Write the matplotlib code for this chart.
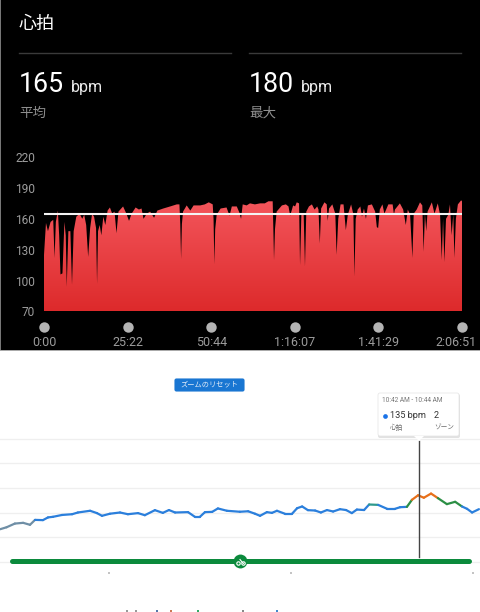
import matplotlib
matplotlib.use('Agg')
import matplotlib.pyplot as plt
import matplotlib.patches as patches
from matplotlib.transforms import ScaledTranslation
import numpy as np

plt.rcParams['font.family'] = ['Roboto', 'Noto Sans CJK JP', 'DejaVu Sans']

# upper chart, minutes and bpm
hr_minutes = [0, .6, 1.2, 2, 2.8, 3.2, 3.6, 4.2, 4.6, 5,
              5.6, 6.2, 6.6, 6.9, 7.4, 8, 8.5, 9, 9.8, 10.8,
              11.6, 12.2, 12.8, 13.4, 14, 14.6, 15.2, 15.8, 16.1, 16.4,
              16.9, 17.4, 18, 18.6, 19.3, 20, 20.7, 21.4, 22, 22.6,
              24, 25, 25.8, 26.6, 27.8, 28.8, 29.6, 30.2, 31.2, 32.2,
              33.4, 34.4, 36.2, 38.3, 40.3, 41.1, 41.35, 41.6, 41.85, 42.2,
              43.3, 44.4, 45.4, 47.4, 48.8, 50, 51.2, 51.45, 51.7, 51.95,
              52.4, 53.6, 55.4, 56.3, 57, 58.5, 59.3, 59.8, 60.3, 61.5,
              62.5, 64, 65.6, 67, 68.1, 69.4, 69.6, 69.8, 70.1, 70.6,
              72.2, 73.4, 74.2, 74.7, 75.6, 76.2, 76.7, 77.4, 77.7, 78.1,
              78.8, 79.2, 79.6, 80.4, 81.3, 82.1, 82.9, 83.3, 83.7, 84.1,
              85.1, 85.8, 86.1, 86.5, 87.5, 88.4, 88.8, 89.3, 90, 90.9,
              91.6, 92.2, 93.2, 93.9, 94.2, 94.6, 95.2, 96, 96.5, 97.1,
              97.7, 98.3, 99.5, 100.5, 101, 101.4, 101.9, 102.7, 103.3, 104.5,
              105.8, 106.2, 106.5, 108, 109, 109.8, 110.4, 111.1, 111.8, 112.2,
              113.1, 114.1, 114.8, 115.2, 115.6, 116, 116.4, 117.7, 118.5, 119.5,
              120.2, 120.7, 121.1, 121.5, 122, 122.7, 123.2, 123.7, 124.2, 124.55,
              125, 125.6, 126.6, 126.85]
hr_values = [125, 156, 148, 157, 159, 122, 157, 168, 144, 106,
             107, 157, 144, 94, 148, 148, 96, 148, 162, 165,
             160, 164, 154, 123, 151, 165, 162, 151, 97, 148,
             154, 144, 162, 154, 168, 171, 165, 167, 146, 167,
             172, 165, 158, 165, 171, 169, 170, 160, 165, 167,
             161, 168, 170, 172, 174, 174, 155, 121, 155, 167,
             173, 168, 173, 173, 174, 176, 174, 160, 116, 150,
             164, 170, 171, 163, 172, 172, 166, 160, 174, 173,
             175, 174, 175, 175, 177, 177, 150, 120, 150, 167,
             173, 174, 172, 163, 173, 172, 176, 175, 115, 164,
             164, 114, 167, 172, 174, 169, 172, 169, 136, 170,
             176, 174, 158, 170, 174, 165, 125, 160, 174, 174,
             149, 164, 174, 164, 104, 160, 169, 172, 162, 170,
             160, 173, 174, 167, 152, 151, 169, 174, 165, 174,
             174, 164, 169, 175, 169, 154, 169, 164, 122, 165,
             169, 176, 173, 128, 165, 148, 167, 176, 165, 175,
             164, 120, 160, 118, 160, 164, 174, 144, 164, 122,
             160, 174, 178, 177]
hr_average = 165
y_ticks = [70, 100, 130, 160, 190, 220]
x_ticks = [0, 25.37, 50.73, 76.12, 101.48, 126.85]
x_labels = ['0:00', '25:22', '50:44', '1:16:07', '1:41:29', '2:06:51']

# lower chart, minutes from start and bpm
zone_minutes = [-3.3, -1.5, .8, 3.1, 5, 6.4, 8.6, 10, 11.4, 13.9, 16.7, 18.3, 21.7, 23.6, 25, 27.2, 30, 32.2,
                35, 36.9, 39.7, 41.9, 43.6, 45.3, 48.9, 50.8, 52.2, 53.6, 55.6, 57.2, 59.7, 63.3, 65.6,
                67.5, 68.9, 70.8, 72.2, 73.6, 75.8, 77.8, 79.2, 80.6, 82.2, 84.2, 85.8, 87.5, 89.2, 91.1,
                92.8, 94.4, 95.8, 97.8, 99.2, 101.7, 104.2, 106.4, 107.8, 109.7, 111.1, 112.8, 114.4,
                116.4, 118.3, 120.8, 123.1, 125, 126.4, 127.8, 129.7]
zone_values = [106.4, 108, 111, 111.6, 110, 114, 113.8, 116, 116.5, 118, 118.6, 120, 121.4, 119.5, 117.3, 119, 120, 118.6,
               119.5, 117.8, 121.9, 119.7, 122, 120, 120.3, 116.5, 116.5, 120.3, 120.5, 123.3, 121.4, 120.6, 121,
               119, 117.3, 120.3, 119.7, 121.4, 119, 119, 123.5, 124.9, 121.9, 121.6, 120, 122, 120.8, 122.7,
               122, 119.5, 122.4, 122, 126.5, 126.2, 123, 123, 124.3, 124.6, 130.3, 134, 132,
               135.4, 131.7, 126.8, 128.7, 124.9, 123, 120, 122.7]
# zone of each segment of the line
zones = ['g'] * 5 + ['b'] * 47 + ['t'] + ['b'] * 4 + ['g2'] + ['o'] * 4 + ['g2'] * 3 + ['b'] * 3
zone_colors = {'g': '#6f8fa6', 'b': '#2b7fdc', 't': '#2f9a8c', 'g2': '#2c8f45', 'o': '#e8701a'}
grid_values = [80, 100, 120, 140, 160, 180]
ride_length = 127
bottom_ticks = [26.9, 77.5, 128]
cursor_minute = 113
legend_dots = [127, 136, 157, 171, 198, 243, 277]
legend_colors = ['#999999', '#999999', '#5577aa', '#cc7755', '#33aa66', '#888888', '#4488cc']


def axes_px(fig, left, top, right, bottom):
    """ axes placed by pixel edges of the 480x612 figure """
    return fig.add_axes([left / 480, 1 - bottom / 612, (right - left) / 480, (bottom - top) / 612])


fig = plt.figure(figsize=(4.8, 6.12), dpi=100, facecolor='white')

back = fig.add_axes([0, 0, 1, 1], zorder=0)
back.set_xlim(0, 480)
back.set_ylim(612, 0)
back.axis('off')
back.add_patch(patches.Rectangle((1, 0), 479, 350, color='black', lw=0))
back.add_patch(patches.Rectangle((0, 0), 1, 351, color='#777777', lw=0))
back.add_patch(patches.Rectangle((0, 350), 480, 1, color='#aaaaaa', lw=0))

# upper chart
ax = axes_px(fig, 44, 157, 462, 311.5)
ax.set_zorder(1)
ax.patch.set_alpha(0)
area = ax.fill_between(hr_minutes, 70, hr_values, color='none', lw=0)
gradient = np.linspace(0, 1, 256).reshape(-1, 1)
cmap = matplotlib.colors.LinearSegmentedColormap.from_list('hr', ['#f4575d', '#dd2a2b'])
img = ax.imshow(gradient, extent=[0, 126.85, 70, 180], cmap=cmap, aspect='auto', origin='upper')
img.set_clip_path(area.get_paths()[0], transform=ax.transData)
ax.set_xlim(0, 126.85)
ax.set_ylim(70, 220)
ax.plot([0, 126.85], [hr_average, hr_average], color='#f4f4f4', lw=1.5, solid_capstyle='butt')
for s in ax.spines.values():
    s.set_visible(False)
ax.set_yticks(y_ticks)
ax.set_xticks(x_ticks)
ax.set_xticklabels(x_labels)
ax.tick_params(axis='y', length=0, labelsize=8.6, labelcolor='#9c9c9c', pad=6.5)
ax.tick_params(axis='x', length=0, labelsize=9, labelcolor='#9c9c9c', pad=18)
# last label is pushed in from the page edge
last = ax.get_xticklabels()[-1]
last.set_transform(last.get_transform() + ScaledTranslation(-6 / 100, 0, fig.dpi_scale_trans))
ax.plot(x_ticks, [70] * 6, 'o', color='#b4b4b4', ms=7.5, mew=0, clip_on=False,
        transform=ax.transData + ScaledTranslation(0, -15.5 / 100, fig.dpi_scale_trans))

# lower chart
bx = axes_px(fig, 0, 419.5, 480, 579.5)
bx.set_zorder(1)
bx.patch.set_alpha(0)
bx.set_xlim(-3.33, 130)
bx.set_ylim(120 - (580 - 513) * 20 / 24.6, 120 + (513 - 420) * 20 / 24.6)
bx.axis('off')
for v in grid_values:
    bx.axhline(v, color='#efefef', lw=0.9, zorder=1)
for i in range(len(zones)):
    bx.plot(zone_minutes[i:i + 2], zone_values[i:i + 2], color=zone_colors[zones[i]], lw=1.6,
            solid_capstyle='round', zorder=3)
bx.plot([cursor_minute, cursor_minute], [84, 178.5], color='#444444', lw=1, zorder=4)
bx.plot([0, ride_length], [80.5, 80.5], color='#0b8a3c', lw=3.6, solid_capstyle='round', zorder=5)
bx.plot([63.3], [80.5], 'o', color='#0b8a3c', ms=10, mew=0, zorder=6)
bx.plot(bottom_ticks, [71] * 3, 's', color='#c4c4c4', ms=2, mew=0, zorder=2)

# texts and page furniture
page = fig.add_axes([0, 0, 1, 1], zorder=5)
page.patch.set_alpha(0)
page.set_xlim(0, 480)
page.set_ylim(612, 0)
page.axis('off')

page.text(19, 23.5, '心拍', color='white', fontsize=13, va='center')
page.plot([19, 231], [53, 53], color='#3a3a3a', lw=1)
page.plot([249, 461], [53, 53], color='#3a3a3a', lw=1)
page.text(19, 92, '165', color='white', fontsize=19.3, va='baseline')
page.text(71, 92, 'bpm', color='#e8e8e8', fontsize=11.5, va='baseline')
page.text(249, 92, '180', color='white', fontsize=19.3, va='baseline')
page.text(301, 92, 'bpm', color='#e8e8e8', fontsize=11.5, va='baseline')
page.text(19, 113, '平均', color='#8f8f8f', fontsize=9.7, va='center')
page.text(249, 113, '最大', color='#8f8f8f', fontsize=9.7, va='center')

# reset button
page.add_patch(patches.FancyBboxPatch((175, 379), 69, 12, boxstyle='round,pad=0,rounding_size=1.5',
                                      fc='#1976d2', ec='#1976d2', lw=0.8))
page.text(209.5, 385, 'ズームのリセット', color='#e8f0fa', fontsize=5.2, ha='center', va='center')

# tooltip
page.add_patch(patches.FancyBboxPatch((378, 394), 82, 44, boxstyle='round,pad=0,rounding_size=2',
                                      fc='#cfcfcf', ec='none', alpha=0.6))
page.add_patch(patches.FancyBboxPatch((378, 393), 81, 43, boxstyle='round,pad=0,rounding_size=2',
                                      fc='white', ec='#e4e4e4', lw=0.5))
page.add_patch(patches.Polygon([(414, 436), (419, 441), (424, 436)], fc='white', ec='none'))
page.text(382.5, 400, '10:42 AM - 10:44 AM', color='#777777', fontsize=4.7, va='center')
page.plot([384.5], [416], 'o', color='#1a73e8', ms=3.4, mew=0)
page.text(390.5, 415.5, '135 bpm', color='#333333', fontsize=6.6, va='center')
page.text(434, 415.5, '2', color='#333333', fontsize=6.6, va='center')
page.text(390, 428, '心拍', color='#666666', fontsize=4.8, va='center')
page.text(434, 428, 'ゾーン', color='#666666', fontsize=4.8, va='center')

# bike glyph
page.add_patch(patches.Circle((238.5, 563.5), 1.7, fc='none', ec='white', lw=0.8))
page.add_patch(patches.Circle((243.5, 563.5), 1.7, fc='none', ec='white', lw=0.8))
page.plot([240, 242, 243.5], [559.5, 562, 563.5], color='white', lw=0.8)

page.scatter(legend_dots, [611] * 7, c=legend_colors, s=2.5, marker='s', lw=0)

fig.savefig('out.png', dpi=100, facecolor='white')
